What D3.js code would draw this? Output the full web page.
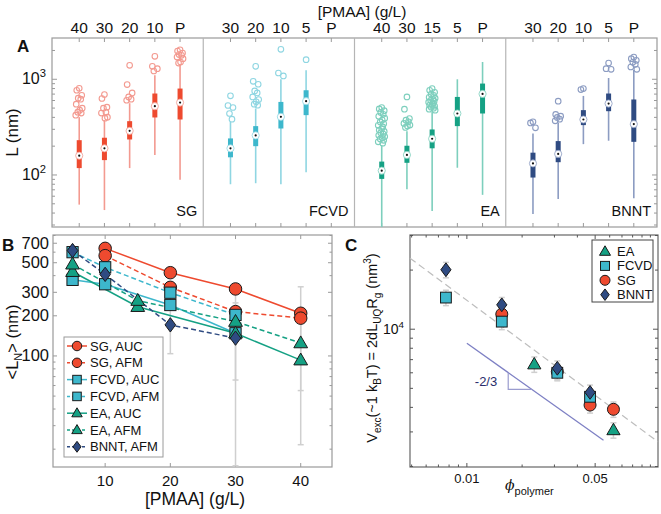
<!DOCTYPE html>
<html><head><meta charset="utf-8">
<script src="https://cdn.jsdelivr.net/npm/d3@7"></script>
<style>body{margin:0;background:#fff}svg{display:block}text{font-family:"Liberation Sans",Arial,sans-serif;fill:#111}</style>
</head><body><svg id="c" width="661" height="514"></svg>
<script>
// ---------------- Panel A data (box plots of L, nm) ----------------
const sgCats = ["40","30","20","10","P"];
const sgLow  = [49, 43, 118, 162, 89];
const sgQ1   = [118, 143, 235, 399, 380];
const sgMed  = [159, 190, 289, 523, 571];
const sgQ3   = [231, 245, 365, 710, 800];
const sgHigh = [402, 374, 562, 1101, 1420];
const sgOut  = [[806,768,681,634,619,549,499,476,453,443,422],[693,630,511,499,453,443,402,392],[1399,881,720,654,619,604],[1736,1366,1292,1220],[2036,1971,1882,1813,1778,1707,1642,1515,1478]];

const fcCats = ["30","20","10","5","P"];
const fcLow  = [80, 82, 80, 107, null];
const fcQ1   = [153, 200, 306, 422, null];
const fcMed  = [190, 259, 405, 590, null];
const fcQ3   = [241, 324, 580, 768, null];
const fcHigh = [359, 495, 1000, 1241, null];
const fcOut  = [[671,532,507,439,383],[1366,952,887,755,720,654,615,582,549,536],[2054,1163,1083],[1603],[]];

const eaCats = ["40","30","15","5","P"];
const eaLow  = [28.6, 71, 42, 119, 62];
const eaQ1   = [91, 134, 190, 324, 439];
const eaMed  = [111, 162, 239, 439, 703];
const eaQ3   = [138, 202, 299, 654, 902];
const eaHigh = [205, 287, 456, 1000, 1515];
const eaOut  = [[507,490,470,450,430,410,392,375,358,342,330,318,305,295,285,276,268,260,252,245,238,230,222,215],[654,487,389,374,359,346,332,324,314],[800,768,732,698,681,649,634,619,604,590,576,562,549,536,523,511,499,487,476],[],[]];

const bnCats = ["30","20","10","5","P"];
const bnLow  = [39, 56, 210, 228, 57];
const bnQ1   = [94, 136, 332, 464, 222];
const bnMed  = [132, 166, 380, 558, 340];
const bnQ3   = [171, 226, 476, 710, 615];
const bnHigh = [272, 351, 670, 1032, 1250];
const bnOut  = [[359,350,311],[590,429,412,399,383,368],[800,781],[1478,1292,1271],[1707,1642,1577,1503,1433,1343,1271]];

// ---------------- Panel B data (<L_N>, nm vs [PMAA] g/L) ----------------
const sgAucX = [10,20,30,40], sgAucY = [641,421,318,209];
const sgAfmX = [10,20,30,40], sgAfmY = [565,327,215,192];
const fcAucX = [5,10,20,30],  fcAucY = [372,345,241,148];
const fcAfmX = [5,10,20,30],  fcAfmY = [600,462,298,203];
const eaAucX = [5,15,30,40],  eaAucY = [428,234,148,93];
const eaAfmX = [5,15,30,40],  eaAfmY = [487,260,181,125];
const bnAfmX = [5,10,20,30],  bnAfmY = [617,409,171,136];
const bErrX  = [20,30,30,40,40];
const bErrLo = [104,66,15,55,21.6];
const bErrHi = [280,296,250,330,190];
const bXTicks = [10,20,30,40];
const bYTicks = [100,200,300,500,700];

// ---------------- Panel C data (V_exc vs phi) ----------------
const cEaX = [0.0233,0.0629], cEaY = [6627,3063];
const cFcX = [0.00769,0.0155,0.0311,0.0469], cFcY = [14490,10930,6000,4528];
const cSgX = [0.0155,0.0311,0.0469,0.0629], cSgY = [11930,6078,4110,3910];
const cBnX = [0.00769,0.0155,0.0311,0.0469], cBnY = [20080,13310,6325,4766];
const cRelErr = 0.09;
const fitX = [0.0049,0.11], fitY = [23000,2670];
const slopeX = [0.01,0.0555], slopeY = [8485,2723];
const triX = [0.0168,0.0226];
const cXTicks = [0.01,0.05];

// ---------------- colours ----------------
const RED="#ee4a2f", RED_L="#f39a90";
const CYAN="#3db7cc", CYAN_L="#8fd6e2";
const TEAL="#15a184", TEAL_L="#7dcfbd";
const NAVY="#2f4b82", NAVY_L="#8c9cc2";

const svg = d3.select("#c");
svg.append("rect").attr("width",661).attr("height",514).attr("fill","#fff");

// ---------- marker helper ----------
function marker(g, type, x, y, s, fill){
  const st = "#1a1a1a";
  if(type==="circle") g.append("circle").attr("cx",x).attr("cy",y).attr("r",s/2).attr("fill",fill).attr("stroke",st).attr("stroke-width",1);
  else if(type==="square") g.append("rect").attr("x",x-s*0.45).attr("y",y-s*0.45).attr("width",s*0.9).attr("height",s*0.9).attr("fill",fill).attr("stroke",st).attr("stroke-width",1);
  else if(type==="triangle"){ const w=s*1.1,h=s*0.95; g.append("path").attr("d",`M${x},${y-h*0.6}L${x+w/2},${y+h*0.4}L${x-w/2},${y+h*0.4}Z`).attr("fill",fill).attr("stroke",st).attr("stroke-width",1);}
  else if(type==="diamond"){ const w=s*0.85,h=s*1.15; g.append("path").attr("d",`M${x},${y-h/2}L${x+w/2},${y}L${x},${y+h/2}L${x-w/2},${y}Z`).attr("fill",fill).attr("stroke",st).attr("stroke-width",1);}
}
function supLabel(g, x, y, base, sup, size, anchor){
  const t = g.append("text").attr("x",x).attr("y",y).attr("font-size",size).attr("text-anchor",anchor||"end");
  t.append("tspan").text(base);
  t.append("tspan").attr("dy",-size*0.45).attr("font-size",size*0.7).text(sup);
  return t;
}

// =================== PANEL A ===================
const A = {x0:52, x1:657, y0:38, y1:227};
const pw = (A.x1-A.x0)/4;
const yA = d3.scaleLog().domain([28.6,2700]).range([A.y1,A.y0]);
const gA = svg.append("g");
const aPanels = [
  {name:"SG", cats:sgCats, low:sgLow, q1:sgQ1, med:sgMed, q3:sgQ3, high:sgHigh, out:sgOut, dark:RED, light:RED_L},
  {name:"FCVD", cats:fcCats, low:fcLow, q1:fcQ1, med:fcMed, q3:fcQ3, high:fcHigh, out:fcOut, dark:CYAN, light:CYAN_L},
  {name:"EA", cats:eaCats, low:eaLow, q1:eaQ1, med:eaMed, q3:eaQ3, high:eaHigh, out:eaOut, dark:TEAL, light:TEAL_L},
  {name:"BNNT", cats:bnCats, low:bnLow, q1:bnQ1, med:bnMed, q3:bnQ3, high:bnHigh, out:bnOut, dark:NAVY, light:NAVY_L}
];
const jit = [0,-2.5,2.5,-1,1.5,-3,3,0.5,-1.5,2,-3.5,1];
gA.append("rect").attr("x",A.x0).attr("y",A.y0).attr("width",A.x1-A.x0).attr("height",A.y1-A.y0).attr("fill","none").attr("stroke","#9a9a9a").attr("stroke-width",1.2);
yA.ticks().forEach(t=>{
  const major = Math.abs(Math.log10(t)-Math.round(Math.log10(t)))<1e-9;
  const L = major?5:3;
  gA.append("line").attr("x1",A.x0).attr("x2",A.x0+L).attr("y1",yA(t)).attr("y2",yA(t)).attr("stroke","#9a9a9a");
  gA.append("line").attr("x1",A.x1).attr("x2",A.x1-L).attr("y1",yA(t)).attr("y2",yA(t)).attr("stroke","#9a9a9a");
  if(major) supLabel(gA, 46, yA(t)+5, "10", String(Math.round(Math.log10(t))), 16, "end");
});
gA.append("text").attr("transform",`translate(18,${(A.y0+A.y1)/2}) rotate(-90)`).attr("text-anchor","middle").attr("font-size",17).text("L (nm)");
gA.append("text").attr("x",17).attr("y",52).attr("font-size",17).attr("font-weight","bold").text("A");
gA.append("text").attr("x",362).attr("y",17).attr("text-anchor","middle").attr("font-size",15.5).text("[PMAA] (g/L)");

aPanels.forEach((p,i)=>{
  const px0 = A.x0+i*pw;
  const x = d3.scaleLinear().domain([-0.08,5.92]).range([px0,px0+pw]);
  if(i>0) gA.append("line").attr("x1",px0).attr("x2",px0).attr("y1",A.y0).attr("y2",A.y1).attr("stroke","#b5b5b5").attr("stroke-width",1.2);
  gA.append("text").attr("x",px0+pw-6).attr("y",216).attr("text-anchor","end").attr("font-size",14.5).text(p.name);
  p.cats.forEach((c,j)=>{
    const cx = x(j+1);
    gA.append("text").attr("x",cx).attr("y",33).attr("text-anchor","middle").attr("font-size",15.5).text(c);
    gA.append("line").attr("x1",cx).attr("x2",cx).attr("y1",A.y0).attr("y2",A.y0+4).attr("stroke","#9a9a9a");
    gA.append("line").attr("x1",cx).attr("x2",cx).attr("y1",A.y1).attr("y2",A.y1-4).attr("stroke","#9a9a9a");
    if(p.med[j]==null) return;
    gA.append("line").attr("x1",cx).attr("x2",cx).attr("y1",yA(p.low[j])).attr("y2",yA(p.high[j])).attr("stroke",p.light).attr("stroke-width",1.6);
    gA.append("rect").attr("x",cx-2.5).attr("width",5).attr("y",yA(p.q3[j])).attr("height",yA(p.q1[j])-yA(p.q3[j])).attr("fill",p.dark);
    p.out[j].forEach((v,k)=>{
      gA.append("circle").attr("cx",cx+jit[k%jit.length]).attr("cy",yA(v)).attr("r",2.8).attr("fill","none").attr("stroke",p.light).attr("stroke-width",1.1);
    });
    gA.append("circle").attr("cx",cx).attr("cy",yA(p.med[j])).attr("r",3.6).attr("fill","#fff").attr("stroke",p.light).attr("stroke-width",0.8);
    gA.append("circle").attr("cx",cx).attr("cy",yA(p.med[j])).attr("r",1.1).attr("fill","#111");
  });
});

// =================== PANEL B ===================
const B = {x0:53, x1:332, y0:235, y1:467};
const bx = d3.scaleLinear().domain([2,44.8]).range([B.x0,B.x1]);
const by = d3.scaleLog().domain([14.7,807]).range([B.y1,B.y0]);
const gB = svg.append("g");
gB.append("rect").attr("x",B.x0).attr("y",B.y0).attr("width",B.x1-B.x0).attr("height",B.y1-B.y0).attr("fill","none").attr("stroke","#9a9a9a").attr("stroke-width",1.2);
by.ticks().forEach(t=>{
  const lab = bYTicks.includes(Math.round(t));
  const L = lab?4:2.5;
  gB.append("line").attr("x1",B.x0).attr("x2",B.x0+L).attr("y1",by(t)).attr("y2",by(t)).attr("stroke","#9a9a9a");
  gB.append("line").attr("x1",B.x1).attr("x2",B.x1-L).attr("y1",by(t)).attr("y2",by(t)).attr("stroke","#9a9a9a");
});
bYTicks.forEach(t=>{
  gB.append("text").attr("x",49).attr("y",by(t)+5.5).attr("text-anchor","end").attr("font-size",16.5).text(t);
});
bXTicks.forEach(t=>{
  gB.append("line").attr("x1",bx(t)).attr("x2",bx(t)).attr("y1",B.y1).attr("y2",B.y1-4).attr("stroke","#9a9a9a");
  gB.append("line").attr("x1",bx(t)).attr("x2",bx(t)).attr("y1",B.y0).attr("y2",B.y0+4).attr("stroke","#9a9a9a");
  gB.append("text").attr("x",bx(t)).attr("y",486).attr("text-anchor","middle").attr("font-size",15).text(t);
});
gB.append("text").attr("x",195).attr("y",505).attr("text-anchor","middle").attr("font-size",17.5).text("[PMAA] (g/L)");
{
  const t = gB.append("text").attr("transform",`translate(18,342) rotate(-90)`).attr("text-anchor","middle").attr("font-size",16.5);
  t.append("tspan").text("<L");
  t.append("tspan").attr("dy",4).attr("font-size",11).text("N");
  t.append("tspan").attr("dy",-4).text("> (nm)");
}
gB.append("text").attr("x",2).attr("y",251).attr("font-size",17).attr("font-weight","bold").text("B");
bErrX.forEach((x,i)=>{
  const X=bx(x);
  gB.append("line").attr("x1",X).attr("x2",X).attr("y1",Math.min(by(bErrLo[i]),B.y1)).attr("y2",by(bErrHi[i])).attr("stroke","#cfcfcf").attr("stroke-width",1.5);
  [bErrLo[i],bErrHi[i]].forEach(v=>{ if(by(v)<B.y1-1) gB.append("line").attr("x1",X-3).attr("x2",X+3).attr("y1",by(v)).attr("y2",by(v)).attr("stroke","#cfcfcf").attr("stroke-width",1.5);});
});
const bSeries = [
  {label:"SG, AUC", X:sgAucX, Y:sgAucY, color:RED, dash:null, m:"circle"},
  {label:"SG, AFM", X:sgAfmX, Y:sgAfmY, color:RED, dash:"5,3", m:"circle"},
  {label:"FCVD, AUC", X:fcAucX, Y:fcAucY, color:CYAN, dash:null, m:"square"},
  {label:"FCVD, AFM", X:fcAfmX, Y:fcAfmY, color:CYAN, dash:"5,3", m:"square"},
  {label:"EA, AUC", X:eaAucX, Y:eaAucY, color:TEAL, dash:null, m:"triangle"},
  {label:"EA, AFM", X:eaAfmX, Y:eaAfmY, color:TEAL, dash:"5,3", m:"triangle"},
  {label:"BNNT, AFM", X:bnAfmX, Y:bnAfmY, color:NAVY, dash:"5,3", m:"diamond"}
];
const line = d3.line().x(d=>bx(d[0])).y(d=>by(d[1]));
bSeries.forEach(s=>{
  gB.append("path").attr("d",line(s.X.map((x,i)=>[x,s.Y[i]]))).attr("fill","none").attr("stroke",s.color).attr("stroke-width",1.5).attr("stroke-dasharray",s.dash);
});
bSeries.forEach(s=>{
  s.X.forEach((x,i)=>marker(gB,s.m,bx(x),by(s.Y[i]),12.5,s.color));
});
const gL = gB.append("g");
gL.append("rect").attr("x",64).attr("y",337).attr("width",99).attr("height",120).attr("fill","#fff").attr("stroke","#9a9a9a");
bSeries.forEach((s,i)=>{
  const yy = 346+16.8*i;
  gL.append("line").attr("x1",67).attr("x2",87).attr("y1",yy).attr("y2",yy).attr("stroke",s.color).attr("stroke-width",1.5).attr("stroke-dasharray",s.dash?"3,2":null);
  marker(gL,s.m,77,yy,9.5,s.color);
  gL.append("text").attr("x",90).attr("y",yy+4.5).attr("font-size",13).text(s.label);
});

// =================== PANEL C ===================
const C = {x0:410, x1:658, y0:235, y1:467};
const cx = d3.scaleLog().domain([0.0049,0.11]).range([C.x0,C.x1]);
const cy = d3.scaleLog().domain([2000,30000]).range([466.5,235.5]);
const gC = svg.append("g");
gC.append("rect").attr("x",C.x0).attr("y",C.y0).attr("width",C.x1-C.x0).attr("height",C.y1-C.y0).attr("fill","none").attr("stroke","#666").attr("stroke-width",1.2);
cx.ticks().forEach(t=>{
  const lab = cXTicks.some(v=>Math.abs(v-t)<1e-9);
  const L = lab?4:2.5;
  gC.append("line").attr("x1",cx(t)).attr("x2",cx(t)).attr("y1",C.y1).attr("y2",C.y1-L).attr("stroke","#555");
  gC.append("line").attr("x1",cx(t)).attr("x2",cx(t)).attr("y1",C.y0).attr("y2",C.y0+L).attr("stroke","#555");
});
cXTicks.forEach(t=>gC.append("text").attr("x",cx(t)).attr("y",483).attr("text-anchor","middle").attr("font-size",13).text(t));
cy.ticks().forEach(t=>{
  const major = Math.abs(Math.log10(t)-Math.round(Math.log10(t)))<1e-9;
  const L = major?5:3;
  gC.append("line").attr("x1",C.x0).attr("x2",C.x0+L).attr("y1",cy(t)).attr("y2",cy(t)).attr("stroke","#555");
  gC.append("line").attr("x1",C.x1).attr("x2",C.x1-L).attr("y1",cy(t)).attr("y2",cy(t)).attr("stroke","#555");
  if(major) supLabel(gC, 404, cy(t)+5, "10", String(Math.round(Math.log10(t))), 14, "end");
});
{
  const t = gC.append("text").attr("x",505).attr("y",490).attr("font-size",14);
  t.append("tspan").attr("font-style","italic").attr("font-family","DejaVu Serif, serif").text("\u03d5");
  t.append("tspan").attr("dy",5).attr("font-size",11).text("polymer");
}
{
  const t = gC.append("text").attr("transform",`translate(377,348) rotate(-90)`).attr("text-anchor","middle").attr("font-size",14.5);
  t.append("tspan").text("V"); t.append("tspan").attr("dy",4).attr("font-size",10).text("exc");
  t.append("tspan").attr("dy",-4).text("(~1 k");
  t.append("tspan").attr("dy",4).attr("font-size",10).text("B");
  t.append("tspan").attr("dy",-4).text("T) = 2dL");
  t.append("tspan").attr("dy",4).attr("font-size",10).text("UQ");
  t.append("tspan").attr("dy",-4).text("R");
  t.append("tspan").attr("dy",4).attr("font-size",10).text("g");
  t.append("tspan").attr("dy",-4).text(" (nm");
  t.append("tspan").attr("dy",-6).attr("font-size",10).text("3");
  t.append("tspan").attr("dy",6).text(")");
}
gC.append("text").attr("x",345).attr("y",251).attr("font-size",17).attr("font-weight","bold").text("C");
gC.append("line").attr("x1",cx(fitX[0])).attr("y1",cy(fitY[0])).attr("x2",cx(fitX[1])).attr("y2",cy(fitY[1])).attr("stroke","#bdbdbd").attr("stroke-width",1.2).attr("stroke-dasharray","7,4");
const slopeK = Math.log(slopeY[1]/slopeY[0])/Math.log(slopeX[1]/slopeX[0]);
const sLine = x=>slopeY[0]*Math.pow(x/slopeX[0],slopeK);
gC.append("line").attr("x1",cx(slopeX[0])).attr("y1",cy(slopeY[0])).attr("x2",cx(slopeX[1])).attr("y2",cy(slopeY[1])).attr("stroke","#7e80c4").attr("stroke-width",1.3);
gC.append("path").attr("d",`M${cx(triX[0])},${cy(sLine(triX[0]))}L${cx(triX[0])},${cy(sLine(triX[1]))}L${cx(triX[1])},${cy(sLine(triX[1]))}`).attr("fill","none").attr("stroke","#9a9ccf").attr("stroke-width",1.2);
gC.append("text").attr("x",486).attr("y",386).attr("text-anchor","middle").attr("font-size",13).style("fill","#2b2d6b").text("-2/3");
const cSeries = [
  {label:"SG", X:cSgX, Y:cSgY, color:RED, m:"circle"},
  {label:"FCVD", X:cFcX, Y:cFcY, color:CYAN, m:"square"},
  {label:"EA", X:cEaX, Y:cEaY, color:TEAL, m:"triangle"},
  {label:"BNNT", X:cBnX, Y:cBnY, color:NAVY, m:"diamond"}
];
cSeries.forEach(s=>s.X.forEach((x,i)=>{
  const X=cx(x), y0=cy(s.Y[i]*(1+cRelErr)), y1=cy(s.Y[i]*(1-cRelErr));
  gC.append("line").attr("x1",X).attr("x2",X).attr("y1",y0).attr("y2",y1).attr("stroke","#cfcfcf").attr("stroke-width",1.5);
  [y0,y1].forEach(yy=>gC.append("line").attr("x1",X-3).attr("x2",X+3).attr("y1",yy).attr("y2",yy).attr("stroke","#cfcfcf").attr("stroke-width",1.5));
}));
cSeries.forEach(s=>s.X.forEach((x,i)=>marker(gC,s.m,cx(x),cy(s.Y[i]),12,s.color)));
gC.append("rect").attr("x",592).attr("y",240).attr("width",61).attr("height",62).attr("fill","#fff").attr("stroke","#444");
const cLeg = [cSeries[2],cSeries[1],cSeries[0],cSeries[3]];
cLeg.forEach((s,i)=>{
  const yy = 251.5+14.4*i;
  marker(gC,s.m,605,yy,10,s.color);
  gC.append("text").attr("x",617).attr("y",yy+4.5).attr("font-size",13).text(s.label);
});
</script></body></html>
